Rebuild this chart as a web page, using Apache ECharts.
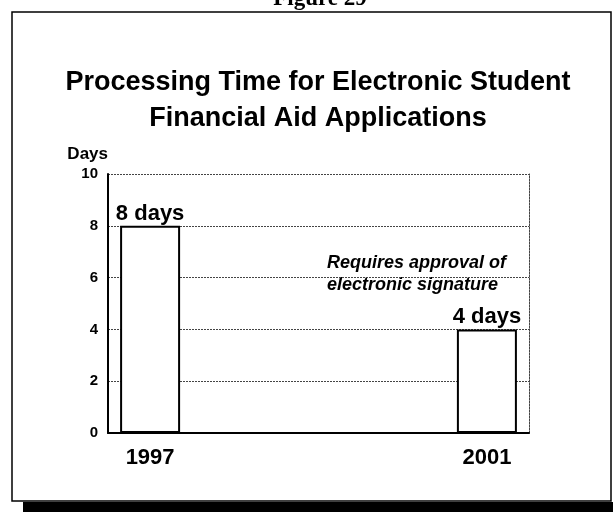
<!DOCTYPE html>
<html>
<head>
<meta charset="utf-8">
<script src="https://cdn.jsdelivr.net/npm/echarts@6/dist/echarts.min.js"></script>
<style>html,body{margin:0;padding:0;background:#fff}#c{width:613px;height:512px}</style>
</head>
<body>
<div id="c"></div>
<script>
const years = [1997, 2001];
const days = [8, 4];
const barLabels = ['8 days', '4 days'];
const yTicks = [0, 2, 4, 6, 8, 10];
const chartTitle = 'Processing Time for Electronic Student\nFinancial Aid Applications';
const figureTitle = 'Figure 29';
const yAxisName = 'Days';
const note = 'Requires approval of\nelectronic signature';

const chart = echarts.init(document.getElementById('c'), null, {renderer: 'canvas'});
const F = '"Liberation Sans", Arial, sans-serif';
chart.setOption({
  backgroundColor: '#fff',
  animation: false,
  title: [{
    text: figureTitle, left: 315, textAlign: 'center', top: -17,
    textStyle: {fontFamily: '"Liberation Serif", serif', fontSize: 23, fontWeight: 'bold', color: '#000'}
  }, {
    text: chartTitle, left: 313, textAlign: 'center', top: 60,
    textStyle: {fontFamily: F, fontSize: 27, fontWeight: 'bold', color: '#000', lineHeight: 36}
  }],
  grid: {left: 108, right: 84, top: 174, bottom: 79},
  xAxis: {
    type: 'value', min: 1996.5, max: 2001.5,
    axisLine: {show: true, lineStyle: {color: '#000', width: 2}},
    axisTick: {show: false},
    splitLine: {show: false},
    axisLabel: {customValues: years, margin: 14, fontFamily: F, fontSize: 22, fontWeight: 'bold', color: '#000', formatter: v => String(v)}
  },
  yAxis: [{
    type: 'value', min: 0, max: 10, interval: 2,
    name: yAxisName, nameLocation: 'end', nameGap: 11,
    nameTextStyle: {fontFamily: F, fontSize: 17, fontWeight: 'bold', color: '#000', align: 'right'},
    axisLine: {show: true, lineStyle: {color: '#000', width: 2}},
    axisTick: {show: false},
    axisLabel: {margin: 10, fontFamily: F, fontSize: 15, fontWeight: 'bold', color: '#000', customValues: yTicks},
    splitLine: {show: true, lineStyle: {color: '#444', width: 1, type: [2, 1]}}
  }, {
    type: 'value', min: 0, max: 10, position: 'right',
    axisLine: {show: true, lineStyle: {color: '#444', width: 1, type: [2, 1]}},
    axisTick: {show: false}, axisLabel: {show: false}, splitLine: {show: false}
  }],
  series: [{
    type: 'bar',
    data: years.map((y, i) => [y, days[i]]),
    barWidth: 60,
    itemStyle: {color: '#fff', borderColor: '#000', borderWidth: 2},
    label: {
      show: true, position: 'top', distance: 1,
      formatter: p => barLabels[p.dataIndex],
      fontFamily: F, fontSize: 22, fontWeight: 'bold', color: '#000'
    }
  }],
  graphic: [{
    type: 'rect', shape: {x: 12, y: 12, width: 599, height: 489},
    style: {fill: 'none', stroke: '#000', lineWidth: 1.5}, z: 10
  }, {
    type: 'rect', shape: {x: 23, y: 502, width: 590, height: 10},
    style: {fill: '#000'}, z: 10
  }, {
    type: 'text', left: 327, top: 252,
    style: {text: note, fontFamily: F, fontSize: 18, fontWeight: 'bold', fontStyle: 'italic', fill: '#000', lineHeight: 22}
  }]
});
</script>
</body>
</html>
